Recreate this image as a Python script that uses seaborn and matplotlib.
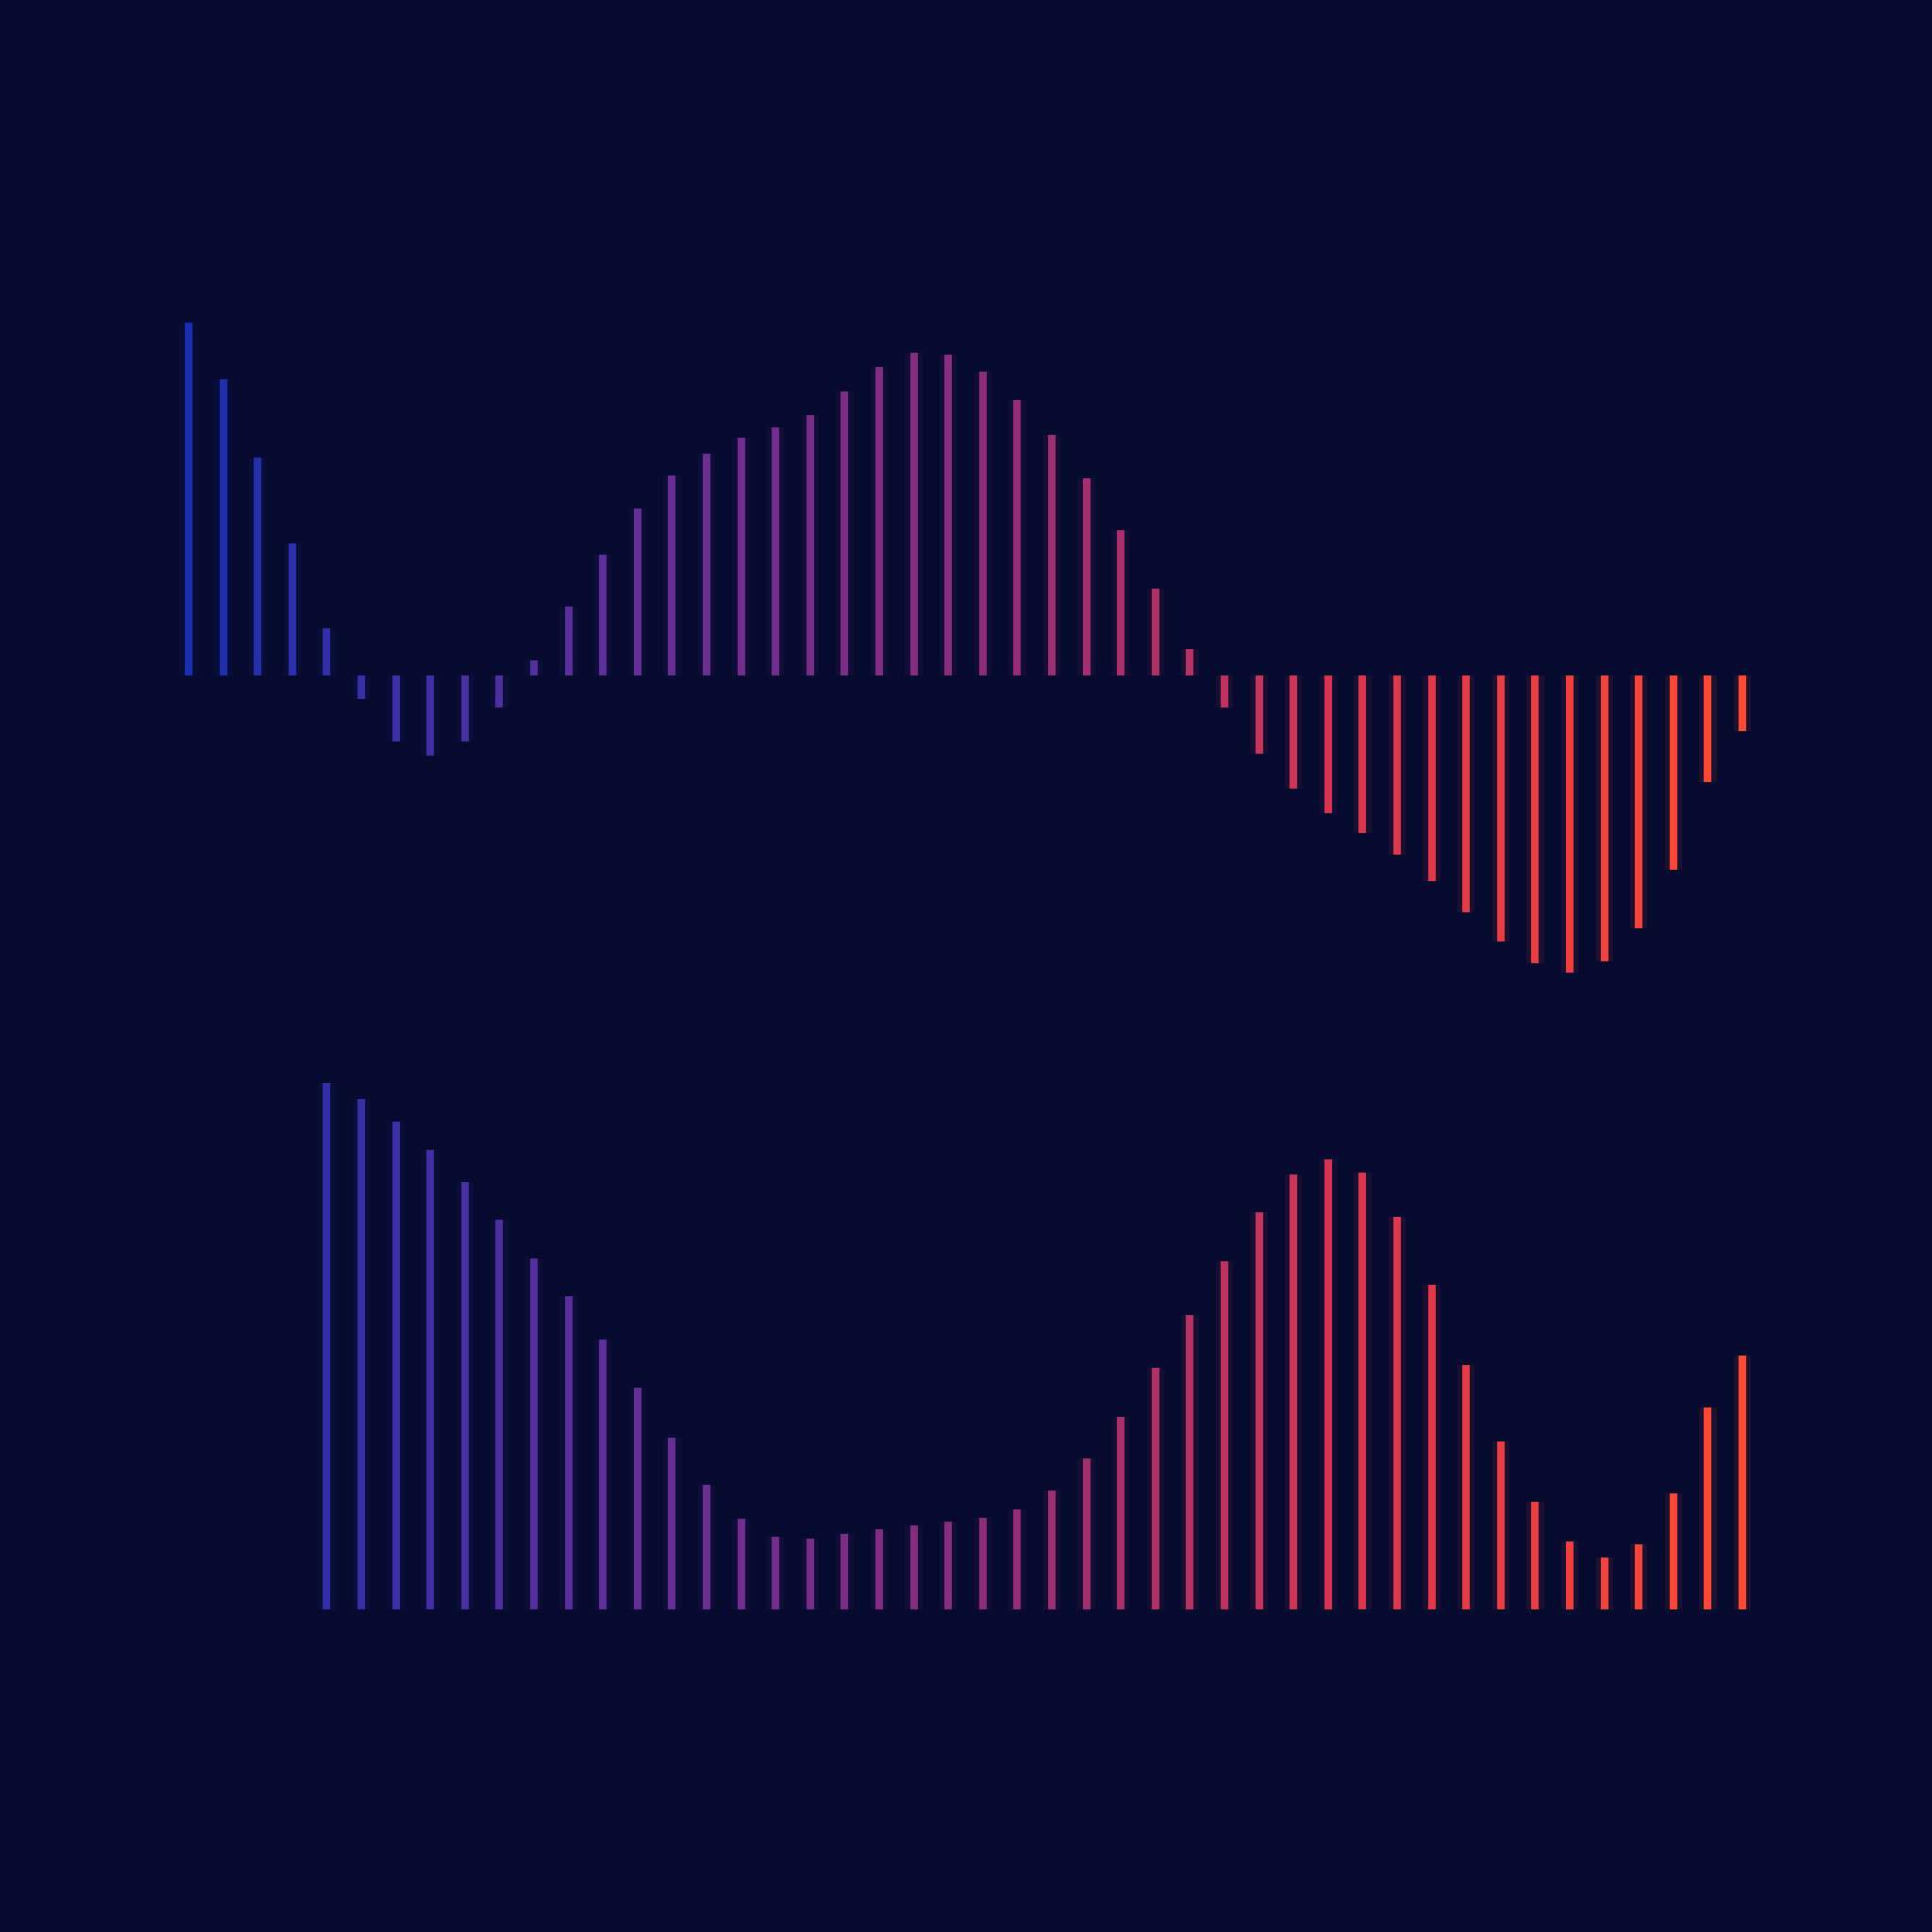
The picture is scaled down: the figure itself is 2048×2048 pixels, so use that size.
import matplotlib
matplotlib.use("Agg")
import matplotlib.pyplot as plt
from matplotlib.colors import LinearSegmentedColormap, to_hex
import numpy as np
import pandas as pd
import seaborn as sns

BACKGROUND = "#050a2e"

# Upper row: 46 bars around a baseline, positive goes up
TOP_POSITIONS = list(range(46))
TOP_VALUES = [
    286, 240, 177, 107, 38, -19, -54, -65, -54, -26,
    12, 56, 98, 135, 162, 180, 193, 201, 211, 230,
    250, 262, 260, 246, 223, 195, 160, 118, 70, 21,
    -26, -64, -92, -112, -128, -146, -167, -192, -216, -234,
    -241, -232, -205, -158, -87, -45,
]

# Lower row: starts at the fifth slot, all positive
BOTTOM_POSITIONS = list(range(4, 46))
BOTTOM_VALUES = [
    427, 414, 396, 373, 347, 316, 285, 254, 219, 180,
    139, 101, 73, 59, 57, 61, 65, 68, 71, 74,
    81, 96, 122, 156, 196, 239, 282, 322, 353, 365,
    354, 318, 263, 198, 136, 87, 55, 42, 53, 94,
    164, 206,
]

GRADIENT = ["#1a2fae", "#5c2f9c", "#8a2c7c", "#d8364f", "#ff4a33"]


def draw_row(ax, positions, values, colors, ylim):
    df = pd.DataFrame({"pos": positions, "val": values})
    df["key"] = df["pos"].astype(str)
    palette = {str(p): colors[p] for p in positions}
    # soft glow behind each bar
    sns.barplot(data=df, x="pos", y="val", hue="key", palette=palette,
                native_scale=True, width=0.5, alpha=0.10, legend=False,
                saturation=1, linewidth=0, ax=ax)
    sns.barplot(data=df, x="pos", y="val", hue="key", palette=palette,
                native_scale=True, width=0.22, legend=False,
                saturation=1, linewidth=0, ax=ax)
    ax.set_xlim(-5.464, 50.49)
    ax.set_ylim(*ylim)
    ax.set_axis_off()


def main():
    sns.set_theme(style="white")
    cmap = LinearSegmentedColormap.from_list("bars", GRADIENT)
    colors = [to_hex(cmap(i / 45.0)) for i in range(46)]

    fig = plt.figure(figsize=(20.48, 20.48), dpi=100, facecolor=BACKGROUND)

    ax_top = fig.add_axes([0, 0, 1, 1])
    ax_top.patch.set_alpha(0)
    draw_row(ax_top, TOP_POSITIONS, TOP_VALUES, colors, (-1020, 548))

    ax_bottom = fig.add_axes([0, 0, 1, 1])
    ax_bottom.patch.set_alpha(0)
    draw_row(ax_bottom, BOTTOM_POSITIONS, BOTTOM_VALUES, colors, (-262, 1306))

    fig.savefig("out.png", dpi=100, facecolor=BACKGROUND)


if __name__ == "__main__":
    main()
